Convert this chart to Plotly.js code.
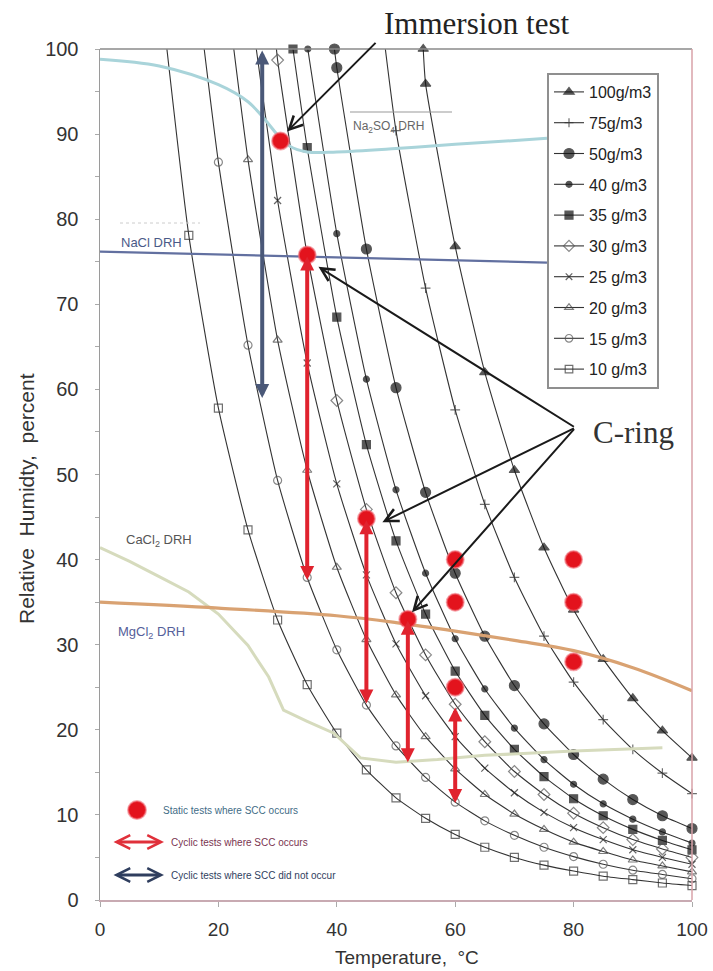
<!DOCTYPE html>
<html><head><meta charset="utf-8">
<script src="https://cdn.plot.ly/plotly-3.0.1.min.js"></script>
<style>html,body{margin:0;padding:0;background:#fff}#chart{width:713px;height:971px}</style>
</head><body><div id="chart"></div>
<script>
// ---- data ----
const seriesNames = ['100g/m3','75g/m3','50g/m3','40 g/m3','35 g/m3','30 g/m3','25 g/m3','20 g/m3','15 g/m3','10 g/m3'];
const satTemps = [54.6, 48.2, 39.6, 35.1, 32.6, 29.8, 26.4, 22.6, 17.6, 11.3]; // temperature where curve meets 100 %
const tempSteps = [5,10,15,20,25,30,35,40,45,50,55,60,65,70,75,80,85,90,95,100];
const rh100 = [100, 95.9, 76.8, 62.0, 50.5, 41.4, 34.1, 28.3, 23.7, 19.9, 16.7];
const rh75  = [100, 90.4, 71.9, 57.6, 46.5, 37.9, 31.0, 25.6, 21.2, 17.7, 14.9, 12.5];
const rh50  = [100, 97.8, 76.5, 60.2, 47.9, 38.4, 31.0, 25.2, 20.7, 17.1, 14.2, 11.8, 9.9, 8.4];
const rh40  = [100, 78.3, 61.2, 48.2, 38.4, 30.7, 24.8, 20.2, 16.5, 13.6, 11.3, 9.5, 8.0, 6.7];
const rh35  = [100, 88.4, 68.5, 53.5, 42.2, 33.6, 26.9, 21.7, 17.7, 14.5, 11.9, 9.9, 8.3, 7.0, 5.9];
const rh30  = [100, 98.7, 75.8, 58.7, 45.9, 36.1, 28.8, 23.0, 18.6, 15.1, 12.4, 10.2, 8.5, 7.1, 6.0, 5.0];
const rh25  = [100, 82.2, 63.1, 48.9, 38.2, 30.1, 24.0, 19.2, 15.5, 12.6, 10.3, 8.5, 7.1, 5.9, 5.0, 4.2];
const rh20  = [100, 87.0, 65.8, 50.5, 39.1, 30.6, 24.1, 19.2, 15.4, 12.4, 10.1, 8.3, 6.8, 5.7, 4.7, 4.0, 3.3];
const rh15  = [100, 86.7, 65.2, 49.3, 37.9, 29.4, 22.9, 18.1, 14.4, 11.5, 9.3, 7.6, 6.2, 5.1, 4.2, 3.5, 3.0, 2.5];
const rh10  = [100, 78.1, 57.8, 43.5, 32.9, 25.3, 19.6, 15.3, 12.0, 9.6, 7.7, 6.2, 5.0, 4.1, 3.4, 2.8, 2.4, 2.0, 1.7];
const seriesRH = [rh100, rh75, rh50, rh40, rh35, rh30, rh25, rh20, rh15, rh10];

// deliquescence lines
const na2so4T  = [0, 10, 20, 25, 28, 30, 32, 35, 40, 50, 60, 75.5];
const na2so4RH = [98.8, 98.0, 95.8, 93.8, 91.6, 89.9, 88.6, 87.9, 87.9, 88.3, 88.8, 89.5];
const naclT  = [0, 75.5];
const naclRH = [76.2, 74.9];
const mgcl2T  = [0, 20, 40, 50, 60, 70, 80, 90, 100];
const mgcl2RH = [35.0, 34.3, 33.4, 32.6, 31.6, 30.5, 29.3, 27.3, 24.6];
const cacl2T  = [0, 5, 10, 15, 20, 25, 28.5, 31, 35, 39.5, 44, 50, 57, 65, 80, 95];
const cacl2RH = [41.4, 39.8, 38.0, 36.2, 33.6, 29.9, 26.2, 22.3, 21.0, 19.6, 16.7, 16.2, 16.5, 17.0, 17.5, 17.9];

// tests
const staticT  = [30.5, 35, 45, 52, 60, 60, 60, 80, 80, 80];
const staticRH = [89.2, 75.8, 44.8, 33.0, 40, 35, 25, 40, 35, 28];
const cyclicT    = [35, 45, 52, 60];
const cyclicHigh = [75.8, 44.8, 33.0, 22.8];
const cyclicLow  = [37.6, 23.1, 16.2, 11.4];
const noSccT    = [27.4];
const noSccHigh = [100];
const noSccLow  = [59];

// pointer arrows (tails & tips, data coordinates)
const immersionTail = [46.8, 100.9];
const immersionTip  = [31.6, 90.3];
const cringTail = [80.3, 55.5];
const cringTipsT  = [36.9, 47.7, 52.7];
const cringTipsRH = [74.4, 44.4, 33.8];

// ---- styles ----
const styles = [
  {symbol:'triangle-up', size:9, start:true, fill:'#111'},
  {symbol:'cross-thin', size:7, start:false, fill:'#333'},
  {symbol:'circle', size:10, start:true, fill:'#111'},
  {symbol:'circle', size:6, start:true, fill:'#111'},
  {symbol:'square', size:8, start:true, fill:'#111'},
  {symbol:'diamond-open', size:9, start:false, fill:'#555'},
  {symbol:'x-thin-open', size:7, start:false, fill:'#222'},
  {symbol:'triangle-up-open', size:8, start:false, fill:'#444'},
  {symbol:'circle-open', size:8, start:false, fill:'#555'},
  {symbol:'square-open', size:8, start:false, fill:'#333'}
];

const L = 100, R = 692, TOP = 49, BOT = 900;
const px = v => (v - L) / (R - L);
const py = v => (BOT - v) / (BOT - TOP);
const FONT = 'Liberation Sans, Arial, sans-serif';
const SERIF = 'Liberation Serif, Times New Roman, serif';

const traces = [];
seriesNames.forEach((name, k) => {
  const x = [satTemps[k]].concat(tempSteps.filter(t => t > satTemps[k]));
  const st = styles[k];
  const sizes = x.map((_, i) => (i === 0 && !st.start) ? 0 : st.size);
  traces.push({
    type:'scatter', mode:'lines+markers', name, legendgroup:'g'+k,
    x, y: seriesRH[k], cliponaxis:false,
    line:{color:'#333', width:1.1, shape:'spline', smoothing:0.5},
    marker:{symbol:st.symbol, size:sizes, color:st.fill, line:{color:st.fill, width:1.2}}
  });
});
const drh = (x, y, color, width, shape) => ({type:'scatter', mode:'lines', x, y, showlegend:false,
  line:{color, width, shape: shape || 'spline'}, hoverinfo:'skip'});
traces.push(drh(na2so4T, na2so4RH, '#a9d4da', 3));
traces.push(drh(naclT, naclRH, '#6270a0', 2.2, 'linear'));
traces.push(drh(cacl2T, cacl2RH, '#d6dbbd', 3, 'linear'));
traces.push(drh(mgcl2T, mgcl2RH, '#d9a272', 3.2));
traces.push({type:'scatter', mode:'markers', x:staticT, y:staticRH, showlegend:false, cliponaxis:false,
  marker:{size:17, color:'#e3131d', line:{color:'rgba(240,110,120,0.6)', width:2}}});

const ann = [];
// cyclic arrows
cyclicT.forEach((t, i) => ann.push({x:t, y:cyclicLow[i], ax:t, ay:cyclicHigh[i], xref:'x', yref:'y', axref:'x', ayref:'y',
  text:'', showarrow:true, arrowside:'end+start', arrowhead:2, startarrowhead:2, arrowsize:0.7, startarrowsize:0.7,
  arrowwidth:4, arrowcolor:'#e0232e'}));
noSccT.forEach((t, i) => ann.push({x:t, y:noSccLow[i], ax:t, ay:noSccHigh[i], xref:'x', yref:'y', axref:'x', ayref:'y',
  text:'', showarrow:true, arrowside:'end+start', arrowhead:2, startarrowhead:2, arrowsize:0.7, startarrowsize:0.7,
  arrowwidth:4, arrowcolor:'#4a5878'}));
// pointer arrows
ann.push({x:immersionTip[0], y:immersionTip[1], ax:immersionTail[0], ay:immersionTail[1], xref:'x', yref:'y', axref:'x', ayref:'y',
  text:'', showarrow:true, arrowhead:5, arrowsize:1.3, arrowwidth:2, arrowcolor:'#1a1a1a'});
cringTipsT.forEach((t, i) => ann.push({x:t, y:cringTipsRH[i], ax:cringTail[0], ay:cringTail[1], xref:'x', yref:'y', axref:'x', ayref:'y',
  text:'', showarrow:true, arrowhead:5, arrowsize:1.3, arrowwidth:2, arrowcolor:'#1a1a1a'}));
// texts
const txt = (text, x, y, size, color, opts) => Object.assign({text, x:px(x), y:py(y), xref:'paper', yref:'paper',
  showarrow:false, xanchor:'left', yanchor:'middle', font:{family:FONT, size, color}}, opts || {});
ann.push(txt('Immersion test', 476, 24, 31, '#222', {xanchor:'center', font:{family:SERIF, size:31, color:'#222'}}));
ann.push(txt('C-ring', 591, 432, 31, '#333', {font:{family:SERIF, size:31, color:'#333'}}));
ann.push(txt('Na<sub>2</sub>SO<sub>4</sub> DRH', 351, 127, 12, '#666'));
ann.push(txt('NaCl DRH', 119, 242, 13, '#4a5a88'));
ann.push(txt('CaCl<sub>2</sub> DRH', 124, 540, 13, '#555'));
ann.push(txt('MgCl<sub>2</sub> DRH', 116, 632, 13, '#55609a'));
ann.push(txt('Static tests where SCC occurs', 161, 810, 10, '#3f6c86'));
ann.push(txt('Cyclic tests where SCC occurs', 169, 842, 10, '#7a3450'));
ann.push(txt('Cyclic tests where SCC did not occur', 169, 875, 10, '#2f3e5e'));
ann.push(txt('Temperature,  °C', 407, 957, 19, '#333', {xanchor:'center'}));
ann.push(txt('Relative  Humidty,  percent', 26, 499, 21, '#333', {xanchor:'center', textangle:-90}));
// legend keys (bottom-left)
ann.push({x:px(164), y:py(842), ax:px(112), ay:py(842), xref:'paper', yref:'paper', axref:'paper', ayref:'paper',
  text:'', showarrow:true, arrowside:'end+start', arrowhead:5, startarrowhead:5, arrowsize:0.9, startarrowsize:0.9, arrowwidth:3, arrowcolor:'#e0303a'});
ann.push({x:px(164), y:py(875), ax:px(112), ay:py(875), xref:'paper', yref:'paper', axref:'paper', ayref:'paper',
  text:'', showarrow:true, arrowside:'end+start', arrowhead:5, startarrowhead:5, arrowsize:0.9, startarrowsize:0.9, arrowwidth:3, arrowcolor:'#2f3e5e'});

const shapes = [
  {type:'line', xref:'paper', yref:'paper', x0:0, x1:1, y0:1, y1:1, line:{color:'#8a8a8a', width:1.5}},
  {type:'line', xref:'paper', yref:'paper', x0:1, x1:1, y0:0, y1:1, line:{color:'#d9a2a8', width:1.5}},
  {type:'line', xref:'paper', yref:'paper', x0:px(350), x1:px(452), y0:py(112), y1:py(112), line:{color:'#999', width:1}},
  {type:'line', xref:'paper', yref:'paper', x0:px(120), x1:px(200), y0:py(223), y1:py(223), line:{color:'#ccc', width:1, dash:'dot'}},
  {type:'circle', xref:'paper', yref:'paper', x0:px(128), x1:px(146), y0:py(801), y1:py(819), fillcolor:'#e3131d', line:{color:'rgba(240,110,120,0.6)', width:2}}
];

const layout = {
  width:713, height:971, margin:{l:100, r:21, t:49, b:71}, paper_bgcolor:'#fff', plot_bgcolor:'#fff',
  showlegend:true,
  legend:{x:px(547), y:py(73), xanchor:'left', yanchor:'top', bgcolor:'#fff', bordercolor:'#8f8f8f', borderwidth:2,
    font:{family:FONT, size:16, color:'#222'}, tracegroupgap:7, itemwidth:30},
  xaxis:{range:[0,100], dtick:20, showgrid:false, zeroline:false, showline:true, linecolor:'#c8aab2', linewidth:2,
    ticks:'outside', ticklen:5, tickcolor:'#aaa', ticklabelstandoff:6, tickfont:{family:FONT, size:19, color:'#333'}},
  yaxis:{range:[0,100], dtick:10, showgrid:false, zeroline:false, showline:true, linecolor:'#9a9a9a', linewidth:1.5,
    ticks:'outside', ticklen:4, tickcolor:'#aaa', ticklabelstandoff:12, tickfont:{family:FONT, size:20, color:'#333'},
    minor:{dtick:5, ticks:'outside', ticklen:4, tickcolor:'#aaa'}},
  annotations:ann, shapes
};
Plotly.newPlot('chart', traces, layout, {staticPlot:true});
</script></body></html>
